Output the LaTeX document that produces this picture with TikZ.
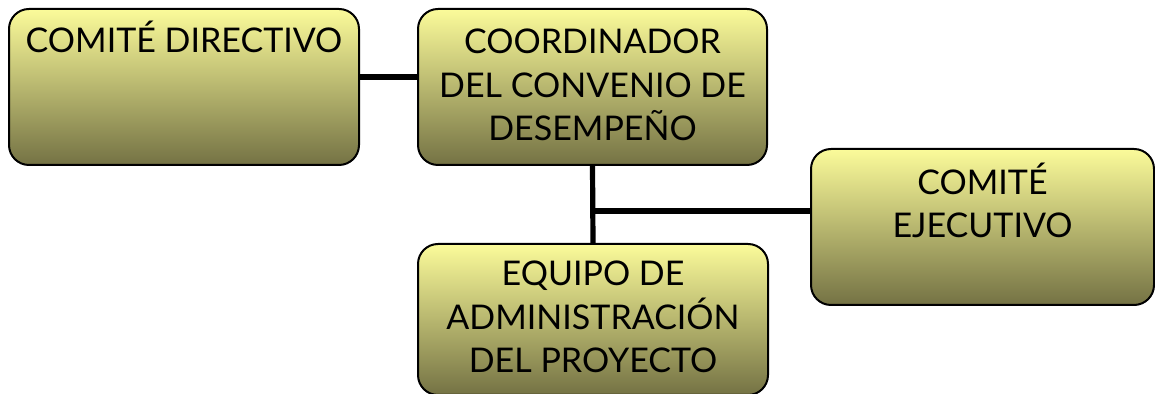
\documentclass[tikz,border=0pt]{standalone}
\usepackage{fontspec}
\setmainfont{Lato}
\usepackage{xcolor}
\definecolor{boxtop}{RGB}{251,251,154}
\definecolor{boxmiddle}{RGB}{203,202,124}
\definecolor{boxbottom}{RGB}{116,114,68}

\tikzset{
  orgbox/.style={draw=black, line width=1pt, rounded corners=10pt,
    top color=boxtop, middle color=boxmiddle, bottom color=boxbottom, inner sep=0pt,
    align=center, font=\fontsize{17}{21.75}\selectfont},
  orgline/.style={line width=2.6pt, black}
}

\begin{document}
\begin{tikzpicture}[x=0.5pt,y=0.5pt,yscale=-1]
    \useasboundingbox (0,0) rectangle (1155,394);

    % Box: comite directivo
    \node [orgbox, anchor=north west, minimum width=175pt, text height=22pt, text depth=56pt] (directivo) at (8,8) {COMITÉ DIRECTIVO};
    % Box: coordinador (baseline of last line)
    \node [orgbox, anchor=north west, minimum width=174.5pt, text height=66pt, text depth=12pt] (coordinador) at (417,8) {COORDINADOR\\DEL CONVENIO DE\\DESEMPEÑO};
    % Box: comite ejecutivo
    \node [orgbox, anchor=north west, minimum width=171.5pt, text height=44.5pt, text depth=33.5pt] (ejecutivo) at (810,148) {COMITÉ\\EJECUTIVO};
    % Box: equipo de administracion
    \node [orgbox, anchor=north west, minimum width=175pt, text height=64.5pt, text depth=11pt] (equipo) at (417,243) {EQUIPO DE\\ADMINISTRACIÓN\\DEL PROYECTO};

    % Straight Lines
    \draw [orgline] ([yshift=-5pt]directivo.east) -- ([yshift=-5pt]directivo.east -| coordinador.west);
    \draw [orgline] (coordinador.south) -- (equipo.north);
    \coordinate (junction) at (591.5,211);
    \draw [orgline] (junction) -- (junction -| ejecutivo.west);

\end{tikzpicture}
\end{document}
